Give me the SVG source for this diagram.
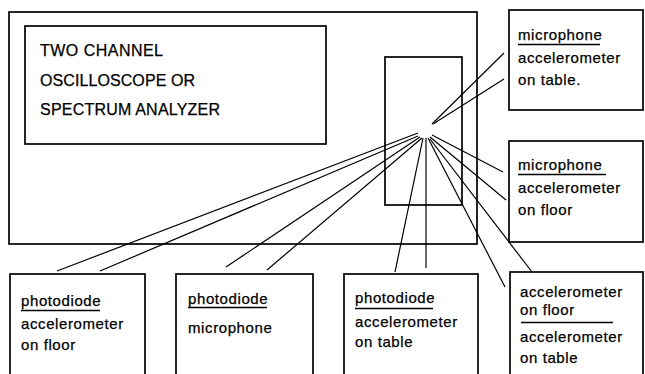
<svg xmlns="http://www.w3.org/2000/svg" width="645" height="374" viewBox="0 0 645 374">
<style>
.box{fill:none;stroke:#000;stroke-width:1.7}
.conn line{stroke:#000;stroke-width:1.2}
.ul{stroke:#000;stroke-width:1.3}
.caps{font-family:"Liberation Sans",Arial,sans-serif;font-size:16px;fill:#000;stroke:#000;stroke-width:0.25}
.lbl{font-family:"Liberation Sans",Arial,sans-serif;font-size:15px;letter-spacing:0.6px;fill:#000;stroke:#000;stroke-width:0.25}
</style>
<rect width="645" height="374" fill="#fff"/>
<g id="instrument">
<rect class="box" x="9" y="12" width="468" height="232"/>
<rect class="box" x="25" y="26" width="301" height="118"/>
<text class="caps" x="40" y="56" textLength="123" lengthAdjust="spacing">TWO CHANNEL</text>
<text class="caps" x="40" y="86" textLength="155" lengthAdjust="spacing">OSCILLOSCOPE OR</text>
<text class="caps" x="40" y="115" textLength="180" lengthAdjust="spacing">SPECTRUM ANALYZER</text>
<rect class="box" x="385" y="57" width="77" height="148"/>
</g>
<g id="n-mic-acc-table">
<rect class="box" x="509" y="10" width="134" height="100"/>
<text class="lbl" x="518" y="40">microphone</text>
<line class="ul" x1="518" y1="44.5" x2="600" y2="44.5"/>
<text class="lbl" x="518" y="63">accelerometer</text>
<text class="lbl" x="518" y="85">on table.</text>
</g>
<g id="n-mic-acc-floor">
<rect class="box" x="509" y="141" width="134" height="101"/>
<text class="lbl" x="518" y="170">microphone</text>
<line class="ul" x1="518" y1="174.5" x2="606" y2="174.5"/>
<text class="lbl" x="518" y="193">accelerometer</text>
<text class="lbl" x="518" y="215">on floor</text>
</g>
<g id="n-pd-acc-floor">
<rect class="box" x="10" y="274" width="135" height="110"/>
<text class="lbl" x="21" y="306">photodiode</text>
<line class="ul" x1="21" y1="310.5" x2="100" y2="310.5"/>
<text class="lbl" x="21" y="329">accelerometer</text>
<text class="lbl" x="21" y="350">on floor</text>
</g>
<g id="n-pd-mic">
<rect class="box" x="176" y="274" width="137" height="110"/>
<text class="lbl" x="188" y="304">photodiode</text>
<line class="ul" x1="188" y1="307.5" x2="267" y2="307.5"/>
<text class="lbl" x="188" y="333">microphone</text>
</g>
<g id="n-pd-acc-table">
<rect class="box" x="344" y="274" width="134" height="110"/>
<text class="lbl" x="355" y="303">photodiode</text>
<line class="ul" x1="355" y1="308.5" x2="433" y2="308.5"/>
<text class="lbl" x="355" y="327">accelerometer</text>
<text class="lbl" x="355" y="347">on table</text>
</g>
<g id="n-acc-floor-acc-table">
<rect class="box" x="510" y="272" width="133" height="112"/>
<text class="lbl" x="520" y="297">accelerometer</text>
<text class="lbl" x="520" y="315">on floor</text>
<line class="ul" x1="521" y1="322.5" x2="613" y2="322.5"/>
<text class="lbl" x="520" y="342">accelerometer</text>
<text class="lbl" x="520" y="363">on table</text>
</g>
<g class="conn" id="connectors">
<line x1="504" y1="53" x2="432" y2="124"/>
<line x1="504" y1="79" x2="433" y2="124"/>
<line x1="57" y1="271" x2="418" y2="133"/>
<line x1="100" y1="271" x2="418" y2="136"/>
<line x1="226" y1="267" x2="420" y2="137"/>
<line x1="267" y1="270" x2="422" y2="138"/>
<line x1="395" y1="272" x2="423" y2="138"/>
<line x1="426" y1="268" x2="426" y2="138"/>
<line x1="505" y1="287" x2="428" y2="138"/>
<line x1="532" y1="272" x2="430" y2="139"/>
<line x1="506" y1="200" x2="430" y2="137"/>
<line x1="503" y1="172" x2="432" y2="135"/>
</g>
</svg>
